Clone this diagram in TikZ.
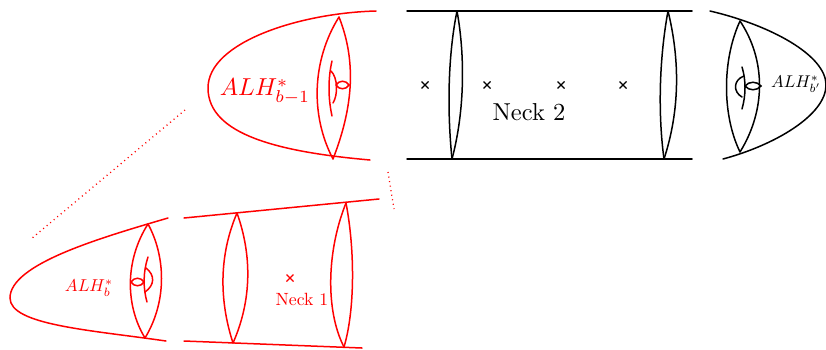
\documentclass[tikz,border=0pt]{standalone}
\usetikzlibrary{shapes.misc}
\tikzset{
  curve/.style={line width=1.5pt,line cap=round},
  redpart/.style={red},
  dots/.style={red,line width=1.3pt,dash pattern=on 1pt off 3.6pt},
  crossmark/.style={cross out,draw,line width=1.2pt,minimum size=7pt,inner sep=0pt,outer sep=0pt},
  lab/.style={inner sep=0pt}
}
\begin{document}
\begin{tikzpicture}[x=1pt,y=-1pt]
\useasboundingbox (0,0) rectangle (826,349);
% upper red cap
\begin{scope}[redpart,curve]
\draw (376,11) .. controls (300,13) and (208,42) .. (208,88) .. controls (208,135) and (280,152) .. (370,160);
\draw (339,17) .. controls (312,60) and (310,115) .. (333,159);
\draw (339,17) .. controls (356,60) and (354,105) .. (333,159);
\draw (332,61) .. controls (328,78) and (328,98) .. (332,116);
\draw (331,71) .. controls (338,78) and (338,95) .. (333,103);
\draw (336,85) .. controls (339,80) and (346,80) .. (349,85) .. controls (346,90) and (339,90) .. (336,85);
\end{scope}
\node[lab,red,scale=2.45] (capA) at (265,92) {$ALH^*_{b-1}$};
% black neck
\begin{scope}[curve]
\draw (407,11) -- (692,11);
\draw (407,159) -- (692,159);
\draw (457,11) .. controls (448,55) and (447,110) .. (452,159);
\draw (457,11) .. controls (465,55) and (465,110) .. (452,159);
\draw (668,11) .. controls (659,60) and (658,115) .. (664,159);
\draw (668,11) .. controls (680,60) and (680,110) .. (664,159);
\end{scope}
\node[crossmark] (x1) at (425,85) {};
\node[crossmark] (x2) at (487,85) {};
\node[crossmark] (x3) at (561,85) {};
\node[crossmark] (x4) at (623,85) {};
\node[lab,scale=2.45] (neckB) at (529,112) {Neck 2};
% right cap
\begin{scope}[curve]
\draw (710,11) .. controls (770,25) and (826,55) .. (826,85) .. controls (826,115) and (775,145) .. (723,159);
\draw (740,21) .. controls (722,60) and (722,115) .. (740,152);
\draw (740,21) .. controls (766,60) and (766,110) .. (740,152);
\draw (742,67) .. controls (746,80) and (746,95) .. (742,109);
\draw (744,76) .. controls (733,80) and (733,92) .. (742,97);
\draw (745,86) .. controls (749,81) and (757,81) .. (761,86) .. controls (757,91) and (749,91) .. (745,86);
\end{scope}
\node[lab,scale=1.7] (capC) at (796,84) {$ALH^*_{b'}$};
% dotted links
\draw[dots] (185,110) -- (31,239);
\draw[dots] (388,172) -- (394,209);
% lower red cap
\begin{scope}[redpart,curve]
\draw (168,218) .. controls (100,238) and (10,264) .. (10,298) .. controls (10,325) and (90,330) .. (166,341);
\draw (148,224) .. controls (125,260) and (125,305) .. (145,338);
\draw (148,224) .. controls (165,255) and (168,300) .. (145,338);
\draw (148,257) .. controls (143,272) and (143,288) .. (147,302);
\draw (146,268) .. controls (155,275) and (155,285) .. (145,292);
\draw (131,282) .. controls (134,277) and (141,277) .. (144,282) .. controls (141,287) and (134,287) .. (131,282);
\draw (184,218) -- (379,199);
\draw (184,341) -- (362,348);
\draw (237,213) .. controls (219,255) and (219,300) .. (233,343);
\draw (237,213) .. controls (252,255) and (252,300) .. (233,343);
\draw (346,203) .. controls (327,250) and (325,310) .. (344,347);
\draw (346,203) .. controls (355,250) and (355,310) .. (344,347);
\end{scope}
\node[crossmark,red] (x5) at (290,278) {};
\node[lab,red,scale=1.77] (neckA) at (302,299.5) {Neck 1};
\node[lab,red,scale=1.72] (capB) at (89,288) {$ALH^*_b$};
\end{tikzpicture}
\end{document}
